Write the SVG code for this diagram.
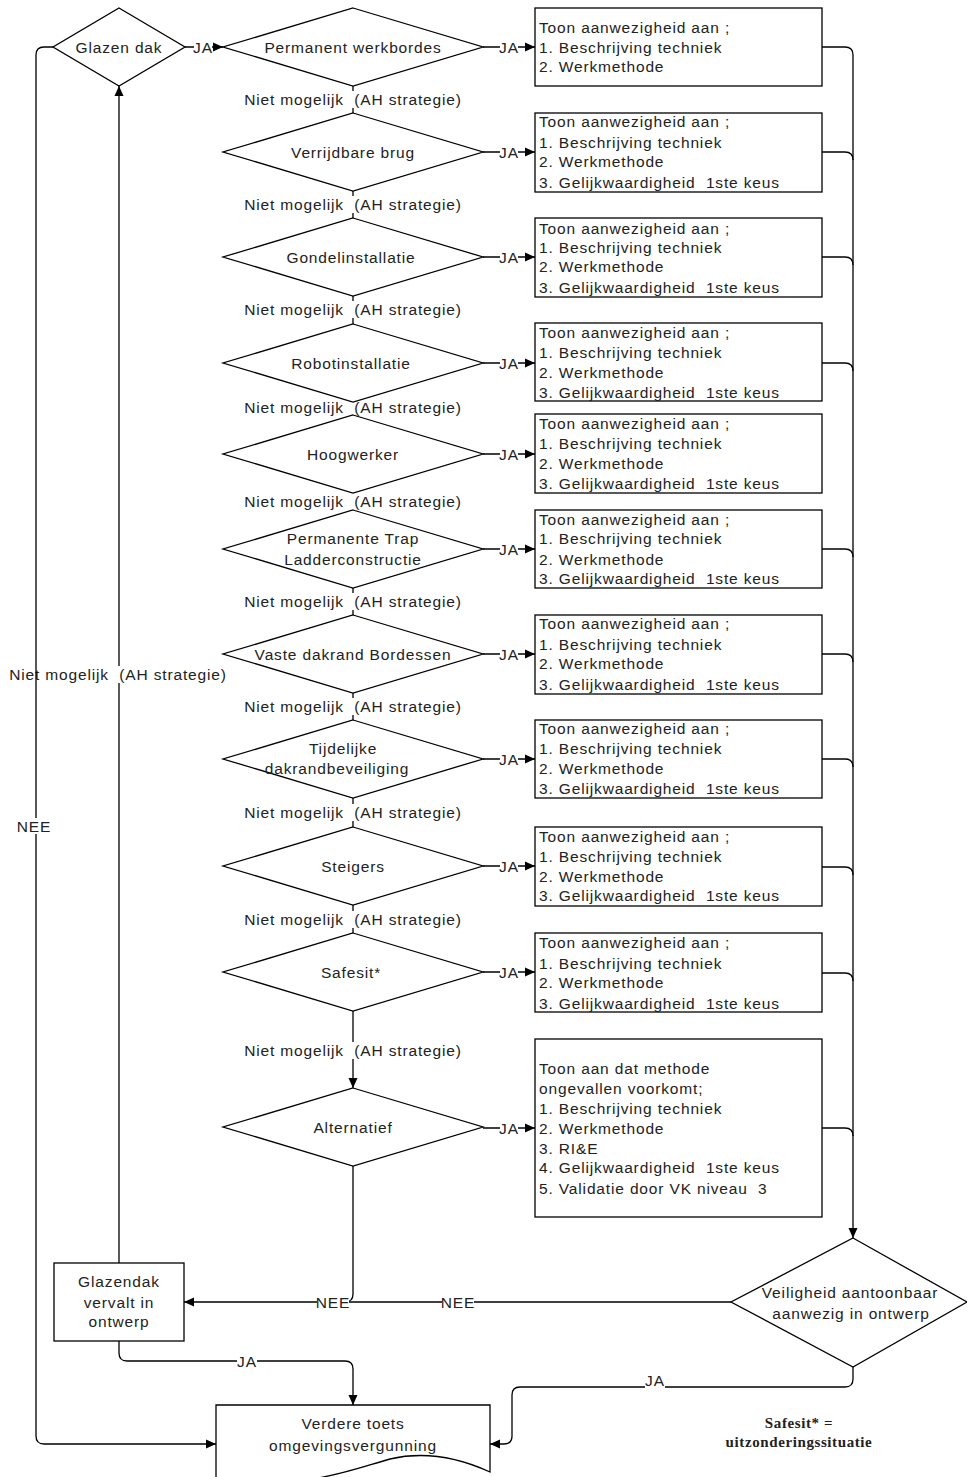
<svg xmlns="http://www.w3.org/2000/svg" width="967" height="1477" viewBox="0 0 967 1477">
<style>
text{font-family:"Liberation Sans",Arial,sans-serif;font-size:15.5px;letter-spacing:0.85px;fill:#222;dominant-baseline:central;white-space:pre}
.c{text-anchor:middle}
.shape{fill:#fff;stroke:#000;stroke-width:1.3}
.ln{fill:none;stroke:#000;stroke-width:1.3}
.arr{marker-end:url(#ah)}
.bg{fill:#fff}
.note{font-family:"Liberation Serif","Times New Roman",serif;font-size:15px;letter-spacing:0.6px;font-weight:bold}
</style>
<defs>
<marker id="ah" viewBox="0 0 10 10" refX="10" refY="5" markerWidth="11" markerHeight="10" markerUnits="userSpaceOnUse" orient="auto"><path d="M0,0.5 L10,5 L0,9.5 z" fill="#000"/></marker>
</defs>

<!-- connectors -->
<g id="connectors">
<path class="ln arr" d="M185,47 H223"/>
<rect class="bg" x="194" y="39" width="18" height="16"/><text class="c" x="203" y="47">JA</text>
<path class="ln" d="M353,86 V113"/>
<path class="ln" d="M353,191 V218"/>
<path class="ln" d="M353,296 V324"/>
<path class="ln" d="M353,402 V415"/>
<path class="ln" d="M353,493 V510"/>
<path class="ln" d="M353,588 V615"/>
<path class="ln" d="M353,693 V720"/>
<path class="ln" d="M353,798 V827"/>
<path class="ln" d="M353,905 V933"/>
<path class="ln arr" d="M353,1011 V1088"/>
<g>
<rect class="bg" x="245" y="91" width="216" height="17"/><text class="c" x="353" y="99">Niet mogelijk  (AH strategie)</text>
<rect class="bg" x="245" y="196" width="216" height="17"/><text class="c" x="353" y="204">Niet mogelijk  (AH strategie)</text>
<rect class="bg" x="245" y="301" width="216" height="17"/><text class="c" x="353" y="309">Niet mogelijk  (AH strategie)</text>
<rect class="bg" x="245" y="399" width="216" height="17"/><text class="c" x="353" y="407">Niet mogelijk  (AH strategie)</text>
<rect class="bg" x="245" y="493" width="216" height="17"/><text class="c" x="353" y="501">Niet mogelijk  (AH strategie)</text>
<rect class="bg" x="245" y="593" width="216" height="17"/><text class="c" x="353" y="601">Niet mogelijk  (AH strategie)</text>
<rect class="bg" x="245" y="698" width="216" height="17"/><text class="c" x="353" y="706">Niet mogelijk  (AH strategie)</text>
<rect class="bg" x="245" y="804" width="216" height="17"/><text class="c" x="353" y="812">Niet mogelijk  (AH strategie)</text>
<rect class="bg" x="245" y="911" width="216" height="17"/><text class="c" x="353" y="919">Niet mogelijk  (AH strategie)</text>
<rect class="bg" x="245" y="1042" width="216" height="17"/><text class="c" x="353" y="1050">Niet mogelijk  (AH strategie)</text>
</g>
<g>
<path class="ln arr" d="M483,47 H535"/><rect class="bg" x="500" y="39" width="18" height="16"/><text class="c" x="509" y="47">JA</text>
<path class="ln arr" d="M483,152 H535"/><rect class="bg" x="500" y="144" width="18" height="16"/><text class="c" x="509" y="152">JA</text>
<path class="ln arr" d="M483,257 H535"/><rect class="bg" x="500" y="249" width="18" height="16"/><text class="c" x="509" y="257">JA</text>
<path class="ln arr" d="M483,363 H535"/><rect class="bg" x="500" y="355" width="18" height="16"/><text class="c" x="509" y="363">JA</text>
<path class="ln arr" d="M483,454 H535"/><rect class="bg" x="500" y="446" width="18" height="16"/><text class="c" x="509" y="454">JA</text>
<path class="ln arr" d="M483,549 H535"/><rect class="bg" x="500" y="541" width="18" height="16"/><text class="c" x="509" y="549">JA</text>
<path class="ln arr" d="M483,654 H535"/><rect class="bg" x="500" y="646" width="18" height="16"/><text class="c" x="509" y="654">JA</text>
<path class="ln arr" d="M483,759 H535"/><rect class="bg" x="500" y="751" width="18" height="16"/><text class="c" x="509" y="759">JA</text>
<path class="ln arr" d="M483,866 H535"/><rect class="bg" x="500" y="858" width="18" height="16"/><text class="c" x="509" y="866">JA</text>
<path class="ln arr" d="M483,972 H535"/><rect class="bg" x="500" y="964" width="18" height="16"/><text class="c" x="509" y="972">JA</text>
<path class="ln arr" d="M483,1128 H535"/><rect class="bg" x="500" y="1120" width="18" height="16"/><text class="c" x="509" y="1128">JA</text>
</g>
<path class="ln arr" d="M822,47 H845 Q853,47 853,55 V1238"/>
<path class="ln" d="M822,152 H845 Q853,152 853,160"/>
<path class="ln" d="M822,257 H845 Q853,257 853,265"/>
<path class="ln" d="M822,363 H845 Q853,363 853,371"/>
<path class="ln" d="M822,549 H845 Q853,549 853,557"/>
<path class="ln" d="M822,654 H845 Q853,654 853,662"/>
<path class="ln" d="M822,759 H845 Q853,759 853,767"/>
<path class="ln" d="M822,867 H845 Q853,867 853,875"/>
<path class="ln" d="M822,973 H845 Q853,973 853,981"/>
<path class="ln" d="M822,1128 H845 Q853,1128 853,1136"/>
<path class="ln arr" d="M731,1302 H184"/>
<path class="ln" d="M353,1166 V1294 Q353,1302 345,1302"/>
<rect class="bg" x="442" y="1294" width="32" height="16"/><text class="c" x="458" y="1302">NEE</text>
<rect class="bg" x="317" y="1294" width="32" height="16"/><text class="c" x="333" y="1302">NEE</text>
<path class="ln arr" d="M119,1263 V86"/>
<rect class="bg" x="10" y="666" width="216" height="17"/><text class="c" x="118" y="674">Niet mogelijk  (AH strategie)</text>
<path class="ln arr" d="M53,47 H44 Q36,47 36,55 V1436 Q36,1444 44,1444 H216"/>
<rect class="bg" x="18" y="818" width="32" height="16"/><text class="c" x="34" y="826">NEE</text>
<path class="ln arr" d="M119,1341 V1353 Q119,1361 127,1361 H345 Q353,1361 353,1369 V1405"/>
<rect class="bg" x="237" y="1353" width="20" height="16"/><text class="c" x="247" y="1361">JA</text>
<path class="ln arr" d="M853,1367 V1379 Q853,1387 845,1387 H520 Q512,1387 512,1395 V1436 Q512,1444 504,1444 H490"/>
<rect class="bg" x="645" y="1372" width="20" height="16"/><text class="c" x="655" y="1380">JA</text>
</g>

<!-- nodes -->
<g id="glazen-dak"><path class="shape" d="M119,8 L185,47 L119,86 L53,47 Z"/><text class="c" x="119" y="47">Glazen dak</text></g>
<g id="d-permanent-werkbordes"><path class="shape" d="M353,8 L483,47 L353,86 L223,47 Z"/><text class="c" x="353" y="47">Permanent werkbordes</text></g>
<g id="d-verrijdbare-brug"><path class="shape" d="M353,113 L483,152 L353,191 L223,152 Z"/><text class="c" x="353" y="152">Verrijdbare brug</text></g>
<g id="d-gondelinstallatie"><path class="shape" d="M353,218 L483,257 L353,296 L223,257 Z"/><text class="c" x="351" y="257">Gondelinstallatie</text></g>
<g id="d-robotinstallatie"><path class="shape" d="M353,324 L483,363 L353,402 L223,363 Z"/><text class="c" x="351" y="363">Robotinstallatie</text></g>
<g id="d-hoogwerker"><path class="shape" d="M353,415 L483,454 L353,493 L223,454 Z"/><text class="c" x="353" y="454">Hoogwerker</text></g>
<g id="d-permanente-trap"><path class="shape" d="M353,510 L483,549 L353,588 L223,549 Z"/><text class="c" x="353" y="538">Permanente Trap</text><text class="c" x="353" y="559">Ladderconstructie</text></g>
<g id="d-vaste-dakrand"><path class="shape" d="M353,615 L483,654 L353,693 L223,654 Z"/><text class="c" x="353" y="654">Vaste dakrand Bordessen</text></g>
<g id="d-tijdelijke"><path class="shape" d="M353,720 L483,759 L353,798 L223,759 Z"/><text class="c" x="343" y="748">Tijdelijke</text><text class="c" x="337" y="768">dakrandbeveiliging</text></g>
<g id="d-steigers"><path class="shape" d="M353,827 L483,866 L353,905 L223,866 Z"/><text class="c" x="353" y="866">Steigers</text></g>
<g id="d-safesit"><path class="shape" d="M353,933 L483,972 L353,1011 L223,972 Z"/><text class="c" x="351" y="972">Safesit*</text></g>
<g id="d-alternatief"><path class="shape" d="M353,1088 L483,1127 L353,1166 L223,1127 Z"/><text class="c" x="353" y="1127">Alternatief</text></g>

<g id="b1"><rect class="shape" x="535" y="8" width="287" height="78"/><text x="539" y="27">Toon aanwezigheid aan ;</text><text x="539" y="47">1. Beschrijving techniek</text><text x="539" y="66">2. Werkmethode</text></g>
<g id="b2"><rect class="shape" x="535" y="113" width="287" height="79"/><text x="539" y="121">Toon aanwezigheid aan ;</text><text x="539" y="142">1. Beschrijving techniek</text><text x="539" y="161">2. Werkmethode</text><text x="539" y="182">3. Gelijkwaardigheid  1ste keus</text></g>
<g id="b3"><rect class="shape" x="535" y="218" width="287" height="79"/><text x="539" y="228">Toon aanwezigheid aan ;</text><text x="539" y="247">1. Beschrijving techniek</text><text x="539" y="266">2. Werkmethode</text><text x="539" y="287">3. Gelijkwaardigheid  1ste keus</text></g>
<g id="b4"><rect class="shape" x="535" y="323" width="287" height="78"/><text x="539" y="332">Toon aanwezigheid aan ;</text><text x="539" y="352">1. Beschrijving techniek</text><text x="539" y="372">2. Werkmethode</text><text x="539" y="392">3. Gelijkwaardigheid  1ste keus</text></g>
<g id="b5"><rect class="shape" x="535" y="414" width="287" height="79"/><text x="539" y="423">Toon aanwezigheid aan ;</text><text x="539" y="443">1. Beschrijving techniek</text><text x="539" y="463">2. Werkmethode</text><text x="539" y="483">3. Gelijkwaardigheid  1ste keus</text></g>
<g id="b6"><rect class="shape" x="535" y="510" width="287" height="78"/><text x="539" y="519">Toon aanwezigheid aan ;</text><text x="539" y="538">1. Beschrijving techniek</text><text x="539" y="559">2. Werkmethode</text><text x="539" y="578">3. Gelijkwaardigheid  1ste keus</text></g>
<g id="b7"><rect class="shape" x="535" y="615" width="287" height="79"/><text x="539" y="623">Toon aanwezigheid aan ;</text><text x="539" y="644">1. Beschrijving techniek</text><text x="539" y="663">2. Werkmethode</text><text x="539" y="684">3. Gelijkwaardigheid  1ste keus</text></g>
<g id="b8"><rect class="shape" x="535" y="720" width="287" height="78"/><text x="539" y="728">Toon aanwezigheid aan ;</text><text x="539" y="748">1. Beschrijving techniek</text><text x="539" y="768">2. Werkmethode</text><text x="539" y="788">3. Gelijkwaardigheid  1ste keus</text></g>
<g id="b9"><rect class="shape" x="535" y="827" width="287" height="79"/><text x="539" y="836">Toon aanwezigheid aan ;</text><text x="539" y="856">1. Beschrijving techniek</text><text x="539" y="876">2. Werkmethode</text><text x="539" y="895">3. Gelijkwaardigheid  1ste keus</text></g>
<g id="b10"><rect class="shape" x="535" y="933" width="287" height="79"/><text x="539" y="942">Toon aanwezigheid aan ;</text><text x="539" y="963">1. Beschrijving techniek</text><text x="539" y="982">2. Werkmethode</text><text x="539" y="1003">3. Gelijkwaardigheid  1ste keus</text></g>
<g id="b11"><rect class="shape" x="535" y="1039" width="287" height="178"/><text x="539" y="1068">Toon aan dat methode</text><text x="539" y="1088">ongevallen voorkomt;</text><text x="539" y="1108">1. Beschrijving techniek</text><text x="539" y="1128">2. Werkmethode</text><text x="539" y="1148">3. RI&amp;E</text><text x="539" y="1167">4. Gelijkwaardigheid  1ste keus</text><text x="539" y="1188">5. Validatie door VK niveau  3</text></g>

<g id="veiligheid"><path class="shape" d="M853,1238 L967,1302 L853,1367 L731,1302 Z"/><text class="c" x="850" y="1292">Veiligheid aantoonbaar</text><text class="c" x="851" y="1313">aanwezig in ontwerp</text></g>
<g id="glazendak-vervalt"><rect class="shape" x="54" y="1263" width="130" height="78"/><text class="c" x="119" y="1281">Glazendak</text><text class="c" x="119" y="1302">vervalt in</text><text class="c" x="119" y="1321">ontwerp</text></g>
<g id="verdere-toets"><path class="shape" d="M216,1405 H490 V1472 C455,1456 420,1452 390,1459 C350,1470 300,1492 216,1478 Z"/><text class="c" x="353" y="1423">Verdere toets</text><text class="c" x="353" y="1445">omgevingsvergunning</text></g>
<g id="note"><text class="c note" x="799" y="1423">Safesit* =</text><text class="c note" x="799" y="1442">uitzonderingssituatie</text></g>
</svg>
